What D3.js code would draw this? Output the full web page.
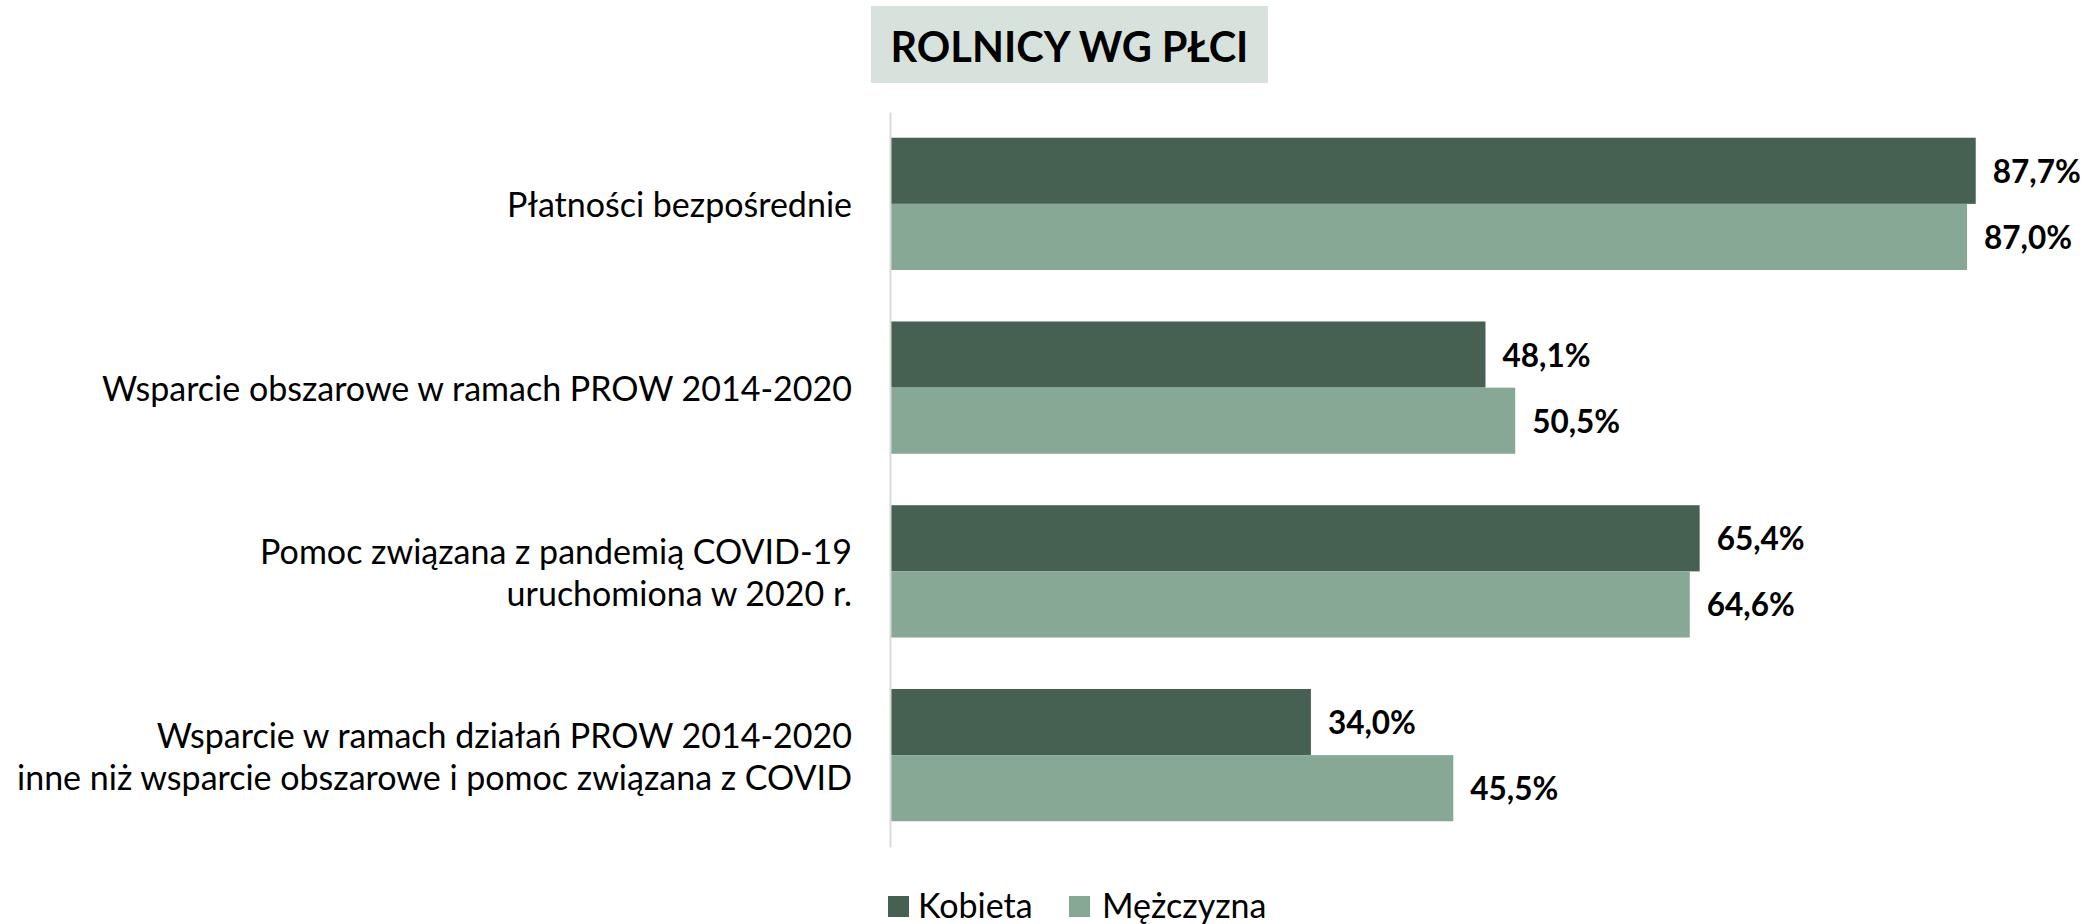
<!DOCTYPE html>
<html>
<head>
<meta charset="utf-8">
<script src="https://cdn.jsdelivr.net/npm/d3@7"></script>
<style>
  body { margin: 0; background: #fff; }
  text { font-family: Lato, "Open Sans", sans-serif; fill: #000; }
</style>
</head>
<body>
<div id="chart"></div>
<script>
// DATA
const title = "ROLNICY WG PŁCI";
const categories = [
  "Płatności bezpośrednie",
  "Wsparcie obszarowe w ramach PROW 2014-2020",
  "Pomoc związana z pandemią COVID-19\nuruchomiona w 2020 r.",
  "Wsparcie w ramach działań PROW 2014-2020\ninne niż wsparcie obszarowe i pomoc związana z COVID"
];
const series = ["Kobieta", "Mężczyzna"];
const kobieta = [87.7, 48.1, 65.4, 34.0];
const mezczyzna = [87.0, 50.5, 64.6, 45.5];
const colors = ["#466152", "#88a896"];

const W = 2095, H = 924;
const x0 = 890;

const rows = categories.map((c, i) => ({ cat: c, vals: [kobieta[i], mezczyzna[i]] }));

const svg = d3.select("#chart").append("svg")
  .attr("width", W)
  .attr("height", H);

// scales
const x = d3.scaleLinear().domain([0, 100]).range([x0, x0 + 1238]);
const y = d3.scaleBand().domain(categories).range([112, 847])
  .paddingInner(0.28).paddingOuter(0.14);
const ySub = d3.scaleBand().domain(series).range([0, y.bandwidth()]);

const fmt = v => d3.format(".1f")(v).replace(".", ",") + "%";

// title
svg.append("rect")
  .attr("x", 871).attr("y", 6)
  .attr("width", 397).attr("height", 77)
  .attr("fill", "#d8e2dc");
svg.append("text")
  .attr("x", 1069.5).attr("y", 62)
  .attr("text-anchor", "middle")
  .style("font-size", "41.5px")
  .style("font-weight", "bold")
  .text(title);

// bars
const grp = svg.append("g").selectAll("g")
  .data(rows).join("g")
  .attr("transform", d => "translate(0," + y(d.cat) + ")");

grp.selectAll("rect")
  .data(d => d.vals.map((v, j) => ({ s: series[j], v: v, j: j })))
  .join("rect")
  .attr("x", x(0))
  .attr("y", d => ySub(d.s))
  .attr("width", d => x(d.v) - x(0))
  .attr("height", ySub.bandwidth())
  .attr("fill", d => colors[d.j]);

grp.selectAll("text.val")
  .data(d => d.vals.map((v, j) => ({ s: series[j], v: v })))
  .join("text")
  .attr("class", "val")
  .attr("x", d => x(d.v) + 17)
  .attr("y", d => ySub(d.s) + ySub.bandwidth() / 2)
  .attr("dominant-baseline", "central")
  .style("font-size", "31.5px")
  .style("font-weight", "bold")
  .text(d => fmt(d.v));

// axis line
const ax = svg.append("g")
  .attr("transform", "translate(" + x0 + ",0)")
  .call(d3.axisLeft(y).tickSize(0).tickFormat(""));
ax.select(".domain").attr("stroke", "#d9d9d9").attr("stroke-width", 2);

// category labels
const lineH = 42;
svg.append("g").selectAll("text")
  .data(categories).join("text")
  .attr("text-anchor", "end")
  .style("font-size", "34px")
  .each(function (c) {
    const lines = c.split("\n");
    const cy = y(c) + y.bandwidth() / 2;
    d3.select(this).selectAll("tspan")
      .data(lines).join("tspan")
      .attr("x", x0 - 38)
      .attr("y", (l, k) => cy + (k - (lines.length - 1) / 2) * lineH)
      .attr("dominant-baseline", "central")
      .text(l => l);
  });

// legend
const legX = [888, 1069];
const leg = svg.append("g").selectAll("g")
  .data(series).join("g")
  .attr("transform", (d, i) => "translate(" + legX[i] + ",896)");
leg.append("rect")
  .attr("width", 21).attr("height", 21)
  .attr("fill", (d, i) => colors[i]);
leg.append("text")
  .attr("x", (d, i) => i === 0 ? 30 : 33)
  .attr("y", 22)
  .style("font-size", "34px")
  .text(d => d);
</script>
</body>
</html>
